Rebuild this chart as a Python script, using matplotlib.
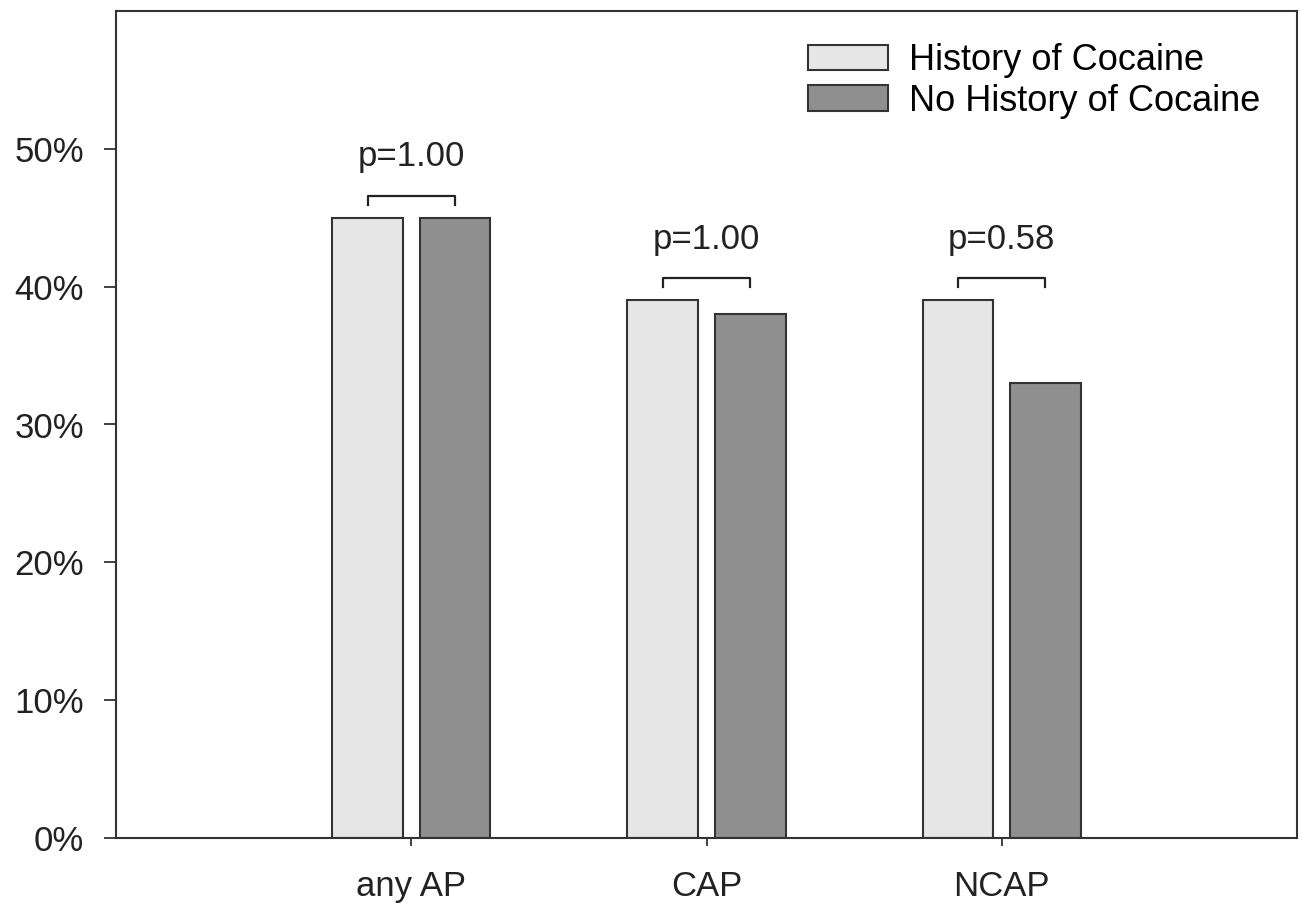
import matplotlib
matplotlib.use("Agg")
import matplotlib.pyplot as plt
import numpy as np

plt.rcParams['font.family'] = ['Liberation Sans', 'DejaVu Sans']

# data
categories = ['any AP', 'CAP', 'NCAP']
cocaine = [45, 39, 39]
no_cocaine = [45, 38, 33]
p_labels = ['p=1.00', 'p=1.00', 'p=0.58']
series_names = ['History of Cocaine', 'No History of Cocaine']
yticks = [0, 10, 20, 30, 40, 50]

light = '#e6e6e6'
dark = '#8f8f8f'
edge = '#333333'
fs = 25

fig = plt.figure(figsize=(13.03, 9.13), dpi=100)
ax = fig.add_axes([116 / 1303, 75 / 913, (1297 - 116) / 1303, (838 - 11) / 913])

x = np.arange(len(categories))
w = 0.24
off = 0.148
ax.bar(x - off, cocaine, w, color=light, edgecolor=edge, linewidth=1.5, label=series_names[0])
ax.bar(x + off, no_cocaine, w, color=dark, edgecolor=edge, linewidth=1.5, label=series_names[1])

# significance brackets
for i, p in enumerate(p_labels):
    top = max(cocaine[i], no_cocaine[i]) + 1.6
    ax.plot([x[i] - off, x[i] - off, x[i] + off, x[i] + off],
            [top - 0.65, top, top, top - 0.65], color='#222222', lw=1.6)
    ax.text(x[i], top + 2.85, p, ha='center', va='center', fontsize=fs, color='#222222')

ax.set_xlim(-1, 3)
ax.set_ylim(0, 60)
ax.set_xticks(x)
ax.set_xticklabels(categories)
ax.set_yticks(yticks)
ax.set_yticklabels([f'{v}%' for v in yticks])
ax.tick_params(axis='y', length=9, width=1.2, pad=14, labelsize=fs, colors='#222222')
ax.tick_params(axis='x', length=6, width=1.2, pad=17, labelsize=fs, colors='#222222')
for s in ax.spines.values():
    s.set_linewidth(1.5)
    s.set_color('#333333')

ax.legend(loc='upper left', bbox_to_anchor=(0.586, 0.961), frameon=False, fontsize=26,
          handlelength=2.2, handleheight=0.7, handletextpad=0.6, labelspacing=0.15,
          borderpad=0, borderaxespad=0)

fig.savefig('out.png', dpi=100, facecolor='white')
